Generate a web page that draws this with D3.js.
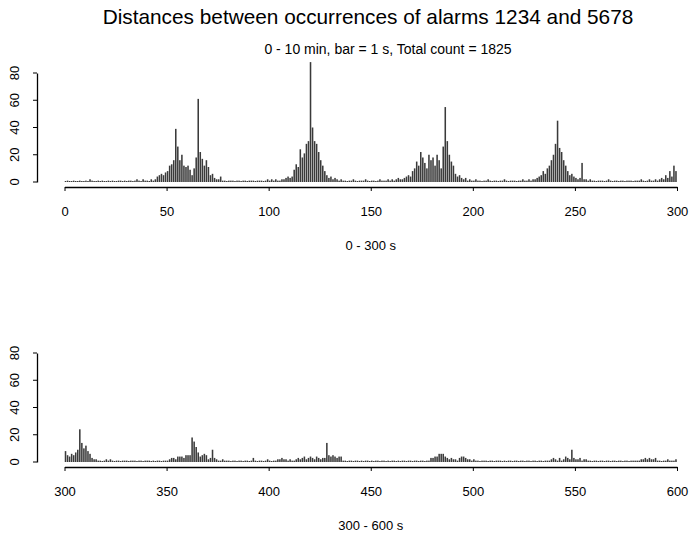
<!DOCTYPE html>
<html>
<head>
<meta charset="utf-8">
<script src="https://cdn.jsdelivr.net/npm/d3@7"></script>
<style>
  body { margin: 0; background: #fff; }
  svg { font-family: "Liberation Sans", Arial, Helvetica, sans-serif; }
</style>
</head>
<body>
<div id="chart"></div>
<script>
var width = 689,
  height = 533;

// Text
var title = "Distances between occurrences of alarms 1234 and 5678";
var subtitle = "0 - 10 min, bar = 1 s, Total count = 1825";
var panelLabels = ["0 - 300 s", "300 - 600 s"];
var panelStarts = [0, 300];
var yTicks = [0, 20, 40, 60, 80];
var xTicksTop = [0, 50, 100, 150, 200, 250, 300];
var xTicksBottom = [300, 350, 400, 450, 500, 550, 600];

// counts per second, 0 - 299 s
var countsTop = [
  0, 1, 0, 0, 1, 0, 0, 1, 0, 0,
  1, 0, 2, 1, 0, 0, 1, 0, 1, 0,
  0, 1, 0, 1, 0, 0, 1, 1, 0, 1,
  0, 1, 1, 0, 1, 2, 1, 0, 2, 1,
  1, 0, 2, 1, 2, 4, 5, 6, 5, 7,
  8, 12, 13, 16, 39, 26, 16, 20, 12, 11,
  12, 9, 5, 10, 18, 61, 22, 17, 12, 16,
  11, 5, 6, 3, 2, 2, 4, 1, 1, 0,
  1, 1, 1, 0, 1, 1, 0, 1, 1, 0,
  1, 1, 1, 0, 1, 1, 1, 0, 1, 2,
  1, 2, 1, 2, 1, 1, 2, 2, 3, 4,
  3, 4, 9, 13, 11, 24, 18, 21, 28, 30,
  88, 40, 30, 28, 22, 16, 12, 8, 5, 3,
  4, 2, 3, 2, 1, 2, 1, 1, 0, 1,
  1, 2, 1, 0, 1, 1, 1, 2, 1, 0,
  1, 1, 0, 1, 2, 1, 1, 1, 2, 1,
  2, 1, 2, 3, 2, 2, 3, 4, 5, 4,
  8, 10, 15, 12, 22, 18, 14, 10, 20, 16,
  18, 12, 20, 16, 10, 26, 55, 30, 20, 15,
  12, 6, 4, 5, 3, 2, 3, 1, 2, 1,
  1, 2, 1, 1, 0, 1, 1, 2, 1, 0,
  1, 1, 0, 1, 1, 2, 1, 0, 1, 1,
  1, 0, 1, 1, 2, 1, 1, 2, 1, 2,
  2, 3, 4, 5, 8, 6, 10, 12, 16, 20,
  28, 45, 25, 22, 16, 12, 8, 5, 6, 4,
  3, 2, 3, 14, 2, 2, 1, 2, 1, 1,
  0, 1, 1, 1, 0, 1, 2, 1, 0, 1,
  1, 0, 1, 1, 0, 1, 1, 1, 0, 1,
  1, 1, 2, 1, 0, 1, 2, 1, 1, 2,
  1, 2, 3, 2, 5, 3, 8, 4, 12, 8
];

// counts per second, 300 - 599 s
var countsBottom = [
  8, 5, 4, 6, 5, 7, 9, 24, 14, 10,
  12, 8, 6, 3, 2, 2, 1, 1, 0, 1,
  2, 1, 2, 1, 0, 1, 1, 0, 1, 1,
  1, 0, 1, 1, 1, 0, 1, 1, 0, 1,
  1, 1, 0, 1, 0, 1, 1, 0, 1, 1,
  1, 2, 3, 3, 2, 4, 4, 4, 3, 5,
  5, 5, 18, 15, 11, 7, 4, 5, 6, 5,
  2, 3, 9, 3, 2, 1, 1, 2, 1, 1,
  1, 0, 1, 1, 0, 1, 1, 0, 1, 1,
  0, 1, 3, 1, 0, 1, 1, 0, 1, 2,
  1, 0, 1, 1, 2, 2, 3, 2, 2, 1,
  2, 1, 1, 2, 3, 2, 3, 4, 2, 3,
  4, 3, 2, 4, 3, 2, 3, 3, 14, 5,
  4, 5, 4, 3, 4, 4, 1, 1, 0, 1,
  1, 0, 1, 1, 0, 1, 0, 1, 1, 0,
  1, 0, 1, 1, 0, 1, 1, 0, 1, 0,
  1, 1, 0, 1, 0, 1, 1, 0, 1, 1,
  0, 1, 1, 0, 1, 1, 0, 1, 1, 3,
  3, 4, 4, 6, 6, 6, 4, 3, 2, 3,
  2, 2, 1, 3, 4, 4, 3, 2, 2, 1,
  2, 1, 1, 0, 1, 1, 1, 0, 1, 1,
  0, 1, 1, 1, 0, 1, 0, 1, 1, 0,
  1, 1, 0, 1, 1, 0, 1, 1, 0, 1,
  1, 0, 1, 1, 0, 1, 1, 1, 2, 3,
  2, 1, 3, 1, 2, 4, 3, 2, 9, 3,
  2, 2, 3, 1, 2, 2, 1, 1, 0, 1,
  1, 0, 1, 1, 0, 1, 1, 0, 1, 1,
  0, 1, 1, 0, 1, 1, 0, 1, 1, 1,
  1, 1, 2, 2, 3, 2, 3, 2, 2, 3,
  1, 1, 0, 1, 1, 2, 1, 1, 1, 2
];

var panels = [
  { counts: countsTop, ticks: xTicksTop, label: panelLabels[0], start: panelStarts[0], top: 0 },
  { counts: countsBottom, ticks: xTicksBottom, label: panelLabels[1], start: panelStarts[1], top: 280 }
];

var svg = d3
  .select("#chart")
  .append("svg")
  .attr("width", width)
  .attr("height", height);

var plotLeft = 64.5,
  plotRight = 677;

// Titles
svg.append("text")
  .attr("x", 368)
  .attr("y", 24)
  .attr("text-anchor", "middle")
  .style("font-size", "20.8px")
  .text(title);

svg.append("text")
  .attr("x", 388)
  .attr("y", 54)
  .attr("text-anchor", "middle")
  .style("font-size", "14px")
  .text(subtitle);

panels.forEach(function (p) {
  var x = d3.scaleLinear()
    .domain([p.start, p.start + 300])
    .range([plotLeft, plotRight]);
  var y = d3.scaleLinear()
    .domain([0, 80])
    .range([182 + p.top, 73 + p.top]);

  var g = svg.append("g");

  // bars, one per second
  g.selectAll("rect")
    .data(p.counts)
    .enter()
    .append("rect")
    .attr("x", function (d, i) { return x(p.start + i) + 0.25; })
    .attr("width", function (d, i) { return x(p.start + i + 1) - x(p.start + i) - 0.5; })
    .attr("y", function (d) { return Math.min(y(d), y(0) - 1); })
    .attr("height", function (d) { return Math.max(y(0) - y(d), 1); })
    .attr("fill", "#3a3a3a");

  // y axis
  var yAxis = svg.append("g")
    .attr("transform", "translate(37,0)")
    .call(d3.axisLeft(y).tickValues(yTicks).tickSize(4).tickSizeOuter(0));
  yAxis.select(".domain").attr("stroke-width", 1.3);
  yAxis.selectAll("text")
    .attr("x", 0)
    .attr("dy", null)
    .attr("text-anchor", "middle")
    .attr("transform", function (d) { return "translate(-18," + y(d) + ") rotate(-90)"; })
    .attr("y", 0)
    .style("font-size", "13px")
    .style("font-family", "'Liberation Sans', Arial, sans-serif");
  yAxis.selectAll(".tick").attr("transform", null);
  yAxis.selectAll(".tick line").attr("transform", function (d) { return "translate(0," + y(d) + ")"; });

  // x axis
  var xAxis = svg.append("g")
    .attr("transform", "translate(0," + (187 + p.top) + ")")
    .call(d3.axisBottom(x).tickValues(p.ticks).tickFormat(d3.format("d")).tickSize(4).tickSizeOuter(0).tickPadding(16));
  xAxis.select(".domain").attr("stroke-width", 1.3);
  xAxis.selectAll("text")
    .style("font-size", "13px")
    .style("font-family", "'Liberation Sans', Arial, sans-serif");

  svg.append("text")
    .attr("x", (plotLeft + plotRight) / 2)
    .attr("y", 250 + p.top)
    .attr("text-anchor", "middle")
    .style("font-size", "13px")
    .text(p.label);
});
</script>
</body>
</html>
